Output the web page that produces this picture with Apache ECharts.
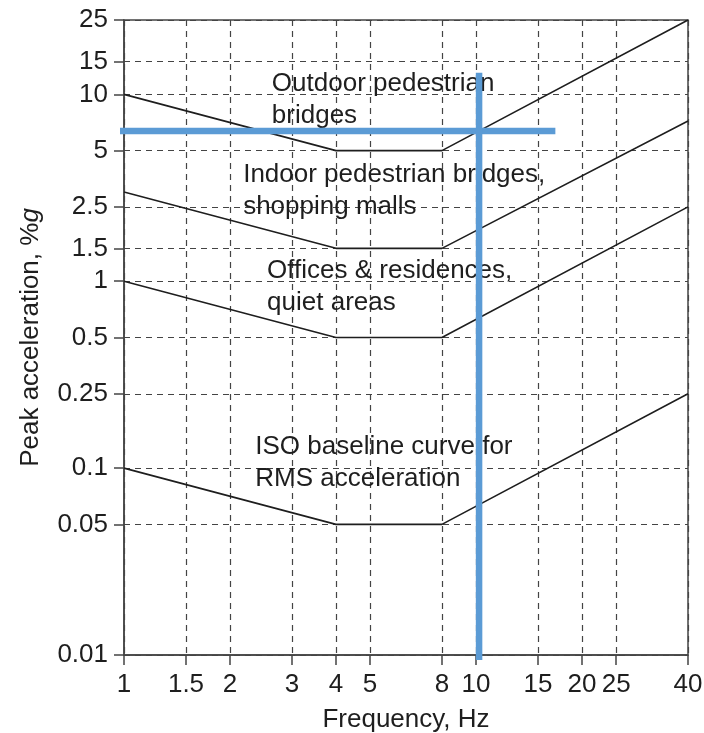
<!DOCTYPE html>
<html>
<head>
    <meta charset="utf-8">
    <title>Peak acceleration vs frequency</title>
    <script src="https://cdn.jsdelivr.net/npm/echarts@6.0.0/dist/echarts.min.js"></script>
    <style>
        html, body { margin: 0; padding: 0; background: #fff; }
        #chart-container { width: 704px; height: 733px; }
    </style>
</head>
<body>
<div id="chart-container"></div>

<script>
    // break points of the limit curves (Hz)
    var freqs = [1, 4, 8, 40];
    var outdoor = [10, 5, 5, 25];
    var indoor = [3, 1.5, 1.5, 7.2];
    var offices = [1, 0.5, 0.5, 2.5];
    var isoBase = [0.1, 0.05, 0.05, 0.25];

    // tick values on both axes
    var xTicks = [1, 1.5, 2, 3, 4, 5, 8, 10, 15, 20, 25, 40];
    var yTicks = [0.01, 0.05, 0.1, 0.25, 0.5, 1, 1.5, 2.5, 5, 10, 15, 25];

    // curve captions, anchored at their left edge (freq, accel)
    var noteText = ['Outdoor pedestrian\nbridges', 'Indoor pedestrian bridges,\nshopping malls',
        'Offices & residences,\nquiet areas', 'ISO baseline curve for\nRMS acceleration'];
    var noteFreq = [2.63, 2.18, 2.55, 2.36];
    var noteAcc = [9.4, 3.04, 0.93, 0.107];

    // blue cross-hair drawn over the figure
    var hLine = [[0.96, 6.36], [16.8, 6.36]];
    var vLine = [[10.2, 13.05], [10.2, 0.0094]];

    var myChart = echarts.init(document.getElementById('chart-container'));

    var font = 'Liberation Sans, Arial, sans-serif';
    var ink = '#1e1e1e';
    var fs = 26;

    function curve(vals) {
        return {
            type: 'line',
            data: freqs.map(function (f, i) { return [f, vals[i]]; }),
            symbol: 'none',
            lineStyle: { color: ink, width: 1.6 },
            z: 3
        };
    }

    var notes = noteText.map(function (t, i) { return [noteFreq[i], noteAcc[i], t]; });

    var option = {
        animation: false,
        grid: {
            left: 124, right: 16, top: 20, bottom: 78,
            outerBoundsMode: 'none',
            containLabel: false,
            show: true, borderColor: '#444', borderWidth: 1.5
        },
        xAxis: {
            type: 'log', logBase: 10, min: 1, max: 40,
            name: 'Frequency, Hz',
            nameLocation: 'middle',
            nameGap: 52,
            nameTextStyle: { fontFamily: font, fontSize: fs, color: ink },
            axisLine: { lineStyle: { color: '#444', width: 1.5 } },
            axisTick: { show: true, length: 10, customValues: xTicks, lineStyle: { color: '#444', width: 1.5 } },
            axisLabel: { customValues: xTicks, margin: 17, fontFamily: font, fontSize: fs, color: ink },
            splitLine: { show: true, lineStyle: { color: '#444', type: [6, 5], width: 1.2 } },
            minorTick: { show: false }, minorSplitLine: { show: false }
        },
        yAxis: {
            type: 'log', logBase: 10, min: 0.01, max: 25,
            name: 'Peak acceleration, %{i|g}',
            nameLocation: 'middle',
            nameGap: 80,
            nameRotate: 90,
            nameTextStyle: {
                fontFamily: font, fontSize: fs, color: ink,
                rich: { i: { fontFamily: font, fontSize: fs, fontStyle: 'italic', color: ink } }
            },
            axisLine: { show: true, lineStyle: { color: '#444', width: 1.5 } },
            axisTick: { show: true, length: 10, customValues: yTicks, lineStyle: { color: '#444', width: 1.5 } },
            axisLabel: { customValues: yTicks, margin: 16, fontFamily: font, fontSize: fs, color: ink },
            splitLine: { show: true, lineStyle: { color: '#444', type: [6, 5], width: 1.2 } },
            minorTick: { show: false }, minorSplitLine: { show: false }
        },
        series: [
            curve(outdoor),
            curve(indoor),
            curve(offices),
            curve(isoBase),
            {
                type: 'scatter',
                data: notes,
                symbolSize: 0,
                z: 4,
                itemStyle: { opacity: 1 },
                label: {
                    show: true, position: 'right', distance: 0,
                    formatter: function (p) { return p.data[2]; },
                    fontFamily: font, fontSize: fs, lineHeight: 32, color: ink,
                    opacity: 1, textBorderWidth: 0
                }
            },
            {
                type: 'line', data: hLine, symbol: 'none', clip: false, z: 10,
                lineStyle: { color: '#5B9BD5', width: 6.5, cap: 'butt' }
            },
            {
                type: 'line', data: vLine, symbol: 'none', clip: false, z: 10,
                lineStyle: { color: '#5B9BD5', width: 6.5, cap: 'butt' }
            }
        ]
    };

    myChart.setOption(option);
</script>
</body>
</html>
